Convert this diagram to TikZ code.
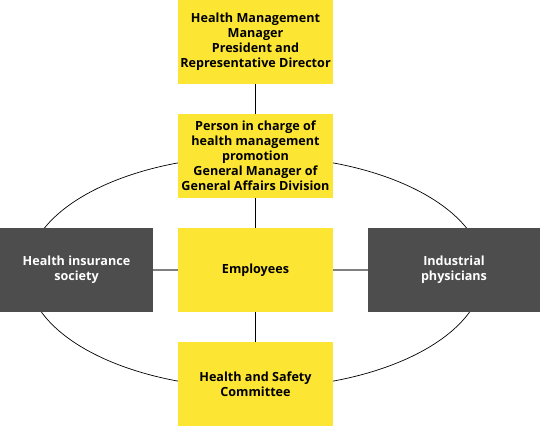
\documentclass[tikz,border=0pt]{standalone}
\usepackage{fontspec}
\setmainfont{Open Sans}
\definecolor{boxyellow}{HTML}{FCE533}
\definecolor{boxgrey}{HTML}{4D4D4D}
\definecolor{linkgrey}{HTML}{808080}
\begin{document}
\begin{tikzpicture}[x=1pt,y=-1pt,
  ybox/.style={fill=boxyellow,draw=none,minimum width=155pt,minimum height=84pt,inner sep=0pt,align=center,font=\fontsize{12.6}{15}\selectfont\bfseries,text=black},
  gbox/.style={fill=boxgrey,draw=none,minimum height=84pt,inner sep=0pt,align=center,font=\fontsize{12.6}{15}\selectfont\bfseries,text=white},
  vlink/.style={draw=black,line width=0.8pt},
  hlink/.style={draw=linkgrey,line width=1.6pt}]
\useasboundingbox (0,0) rectangle (540,426);
\draw[line width=0.7pt] (255.5,272) ellipse [x radius=228, y radius=116];
\node[ybox] (hm) at (255.5,42) {Health Management\\Manager\\President and\\Representative Director};
\node[ybox] (pc) at (255.5,156) {Person in charge of\\health management\\promotion\\General Manager of\\General Affairs Division};
\node[ybox] (em) at (255.5,270) {Employees};
\node[ybox] (hs) at (255.5,384) {Health and Safety\\Committee};
\node[gbox,minimum width=153pt] (hi) at (76.5,270) {Health insurance\\society};
\node[gbox,minimum width=172pt] (ip) at (454,270) {Industrial\\physicians};
\draw[vlink] (hm) -- (pc);
\draw[vlink] (pc) -- (em);
\draw[vlink] (em) -- (hs);
\draw[hlink] (hi) -- (em);
\draw[hlink] (em) -- (ip);
\end{tikzpicture}
\end{document}
